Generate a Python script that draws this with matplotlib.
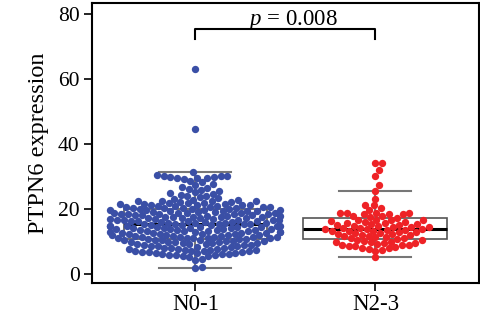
import numpy as np
import matplotlib
matplotlib.use("Agg")
import matplotlib.pyplot as plt

plt.rcParams['font.family'] = ['Liberation Serif', 'DejaVu Serif']
plt.rcParams['mathtext.fontset'] = 'custom'
plt.rcParams['mathtext.it'] = 'Liberation Serif:italic'
plt.rcParams['mathtext.rm'] = 'Liberation Serif'

groups = ["N0-1", "N2-3"]
p_text = "$p$ = 0.008"

# N0-1
n01 = [1.8, 2.2, 4.3, 4.6,
       5.2, 5.4, 5.5, 5.7, 5.8, 5.9, 6.0, 6.1, 6.2, 6.3, 6.4, 6.5, 6.6, 6.7, 6.8, 6.9,
       7.0, 7.1, 7.2, 7.3, 7.5, 7.6, 7.7, 7.8, 7.9, 8.0, 8.1, 8.2, 8.4, 8.5, 8.6, 8.7, 8.8, 8.9, 7.4,
       9.0, 9.1, 9.2, 9.3, 9.4, 9.5, 9.6, 9.7, 9.8, 9.9, 9.9,
       10.0, 10.1, 10.2, 10.3, 10.4, 10.5, 10.5, 10.6, 10.7, 10.8, 10.9, 10.9,
       11.0, 11.1, 11.2, 11.3, 11.4, 11.4, 11.5, 11.6, 11.7, 11.8, 11.9, 11.9, 11.5,
       12.0, 12.1, 12.2, 12.3, 12.4, 12.5, 12.5, 12.6, 12.7, 12.8, 12.9, 12.9, 12.4,
       13.0, 13.1, 13.2, 13.3, 13.3, 13.4, 13.5, 13.6, 13.7, 13.8, 13.9, 13.9, 13.5,
       14.0, 14.1, 14.2, 14.3, 14.4, 14.5, 14.5, 14.6, 14.7, 14.8, 14.9, 14.2, 14.6,
       15.0, 15.1, 15.2, 15.3, 15.4, 15.5, 15.6, 15.6, 15.7, 15.8, 15.9, 15.3, 15.5,
       16.0, 16.1, 16.2, 16.3, 16.4, 16.5, 16.6, 16.7, 16.7, 16.8, 16.9, 16.2, 16.5,
       17.0, 17.1, 17.2, 17.3, 17.4, 17.5, 17.5, 17.6, 17.7, 17.8, 17.9, 17.3, 17.6,
       18.0, 18.1, 18.2, 18.3, 18.4, 18.5, 18.6, 18.6, 18.7, 18.8, 18.9, 18.4, 18.5,
       19.0, 19.1, 19.2, 19.3, 19.4, 19.5, 19.6, 19.7, 19.7, 19.8, 19.9, 19.5,
       20.0, 20.1, 20.2, 20.3, 20.4, 20.5, 20.6, 20.7, 20.8, 20.9, 20.3, 20.6,
       21.0, 21.1, 21.2, 21.3, 21.4, 21.5, 21.6, 21.7, 21.8, 21.9, 21.3,
       22.0, 22.2, 22.3, 22.4, 22.5, 22.6, 22.7, 22.9,
       23.2, 23.5, 23.8, 23.9,
       24.1, 24.4, 24.7, 24.9,
       25.2, 25.6, 25.9,
       26.2, 26.6, 26.9,
       27.3, 27.7,
       28.2, 28.7,
       29.2, 29.4, 29.5, 29.6, 29.8, 29.9,
       30.0, 30.1, 30.2, 30.4,
       31.4, 44.6, 63.2]

# N2-3
n23 = [5.1,
       7.2, 7.4, 7.6, 7.9,
       8.1, 8.3, 8.5, 8.6, 8.8, 8.9,
       9.0, 9.2, 9.4, 9.5, 9.7, 9.8, 9.9,
       10.1, 10.3, 10.5, 10.7, 10.9,
       11.0, 11.3, 11.5, 11.6, 11.7, 11.9,
       12.1, 12.3, 12.4, 12.5, 12.7, 12.8, 12.9,
       13.1, 13.2, 13.3, 13.5, 13.6, 13.7, 13.8, 13.9,
       14.0, 14.2, 14.3, 14.4, 14.5, 14.7, 14.9,
       15.0, 15.1, 15.3, 15.5, 15.6, 15.7, 15.9,
       16.1, 16.3, 16.5, 16.6, 16.6, 16.7,
       17.2, 17.5, 17.7, 17.9,
       18.3, 18.4, 18.5, 18.6, 18.7, 18.8, 18.9,
       19.7, 20.2, 21.1, 21.3,
       23.2, 25.6,
       27.4, 30.3, 32.0, 34.1, 34.3]

colors = ["#3a4fa6", "#ee2226"]


def swarm_x(ax, vals, center, d, wmax):
    # simple beeswarm in pixel space, low values placed first
    pts = ax.transData.transform(np.column_stack([np.full(len(vals), center), vals]))
    cx = pts[0, 0]
    ys = pts[:, 1]
    xs = np.zeros(len(vals))
    px, py = [], []
    for i in np.argsort(ys):
        y = ys[i]
        near = [(a, b) for a, b in zip(px, py) if abs(b - y) < d]
        cands = [0.0]
        for a, b in near:
            dx = np.sqrt(d * d - (b - y) ** 2)
            cands += [a + dx, a - dx]
        cands.sort(key=lambda c: (abs(c), -c))
        for c in cands:
            if all((c - a) ** 2 + (y - b) ** 2 >= d * d - 1e-6 for a, b in near):
                xs[i] = c
                break
        px.append(xs[i])
        py.append(y)
    xs = np.clip(xs, -wmax, wmax)
    back = ax.transData.inverted().transform(np.column_stack([cx + xs, ys]))
    return back[:, 0]


fig = plt.figure(figsize=(4.8, 3.27), dpi=100)
ax = fig.add_axes([0.1917, 0.1346, 0.806, 0.857])
ax.set_xlim(-0.575, 1.575)
ax.set_ylim(-2.8, 83.5)

ax.boxplot([n01, n23], positions=[0, 1], widths=0.8, whis=1.5, showfliers=False,
           patch_artist=True,
           boxprops=dict(facecolor="white", edgecolor="#555555", linewidth=1.2),
           medianprops=dict(color="black", linewidth=2.2),
           whiskerprops=dict(color="#777777", linewidth=1.5),
           capprops=dict(color="#777777", linewidth=1.5), zorder=1)

for k, vals in enumerate([n01, n23]):
    xs = swarm_x(ax, vals, k, 6.8, 85)
    ax.scatter(xs, vals, s=28, color=colors[k], linewidths=0, zorder=3)

# significance bracket
ax.plot([0, 0, 1, 1], [72.2, 75.3, 75.3, 72.2], color="black", lw=1.5, zorder=4)
ax.text(0.54, 76.6, p_text, ha="center", va="baseline", fontsize=16.5)

ax.set_xticks([0, 1])
ax.set_xticklabels(groups, fontsize=16.5)
ax.set_yticks([0, 20, 40, 60, 80])
ax.tick_params(axis="y", labelsize=15.5, length=6, width=1.2, pad=3)
ax.tick_params(axis="x", length=6, width=1.2, pad=2)
ax.set_ylabel("PTPN6 expression", fontsize=17.5, labelpad=6)
for s in ax.spines.values():
    s.set_linewidth(1.5)

fig.savefig("out.png", dpi=100)
